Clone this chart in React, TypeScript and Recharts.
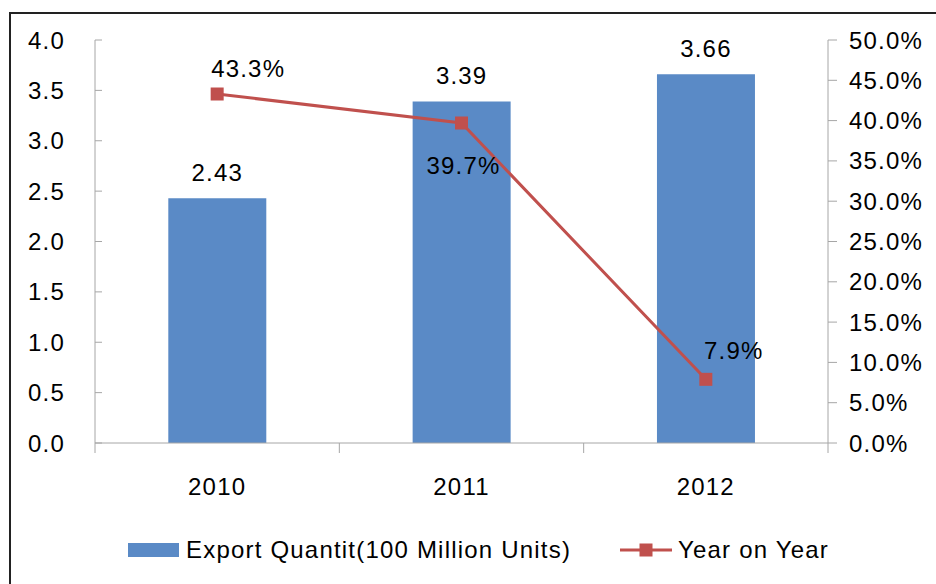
import React from 'react';
import { ComposedChart, Bar, Line, XAxis, YAxis, LabelList } from 'recharts';

const years = ['2010', '2011', '2012'];
const exportQuantity = [2.43, 3.39, 3.66];
const yearOnYear = [43.3, 39.7, 7.9];
const leftTicks = [0, 0.5, 1, 1.5, 2, 2.5, 3, 3.5, 4];
const rightTicks = [0, 5, 10, 15, 20, 25, 30, 35, 40, 45, 50];

// label nudges for the percentage labels, per point
const pctLabelShift = [
  { dx: 31, dy: -26 },
  { dx: 2, dy: 42 },
  { dx: 28, dy: -29 },
];

const data = years.map((year, i) => ({
  year,
  qty: exportQuantity[i],
  yoy: yearOnYear[i],
}));

const FONT = '"Liberation Sans", Arial, sans-serif';
const FS = 24;
const LS = 1.2;
const BLUE = '#5A8AC6';
const RED = '#C0504D';
const AXIS = '#A6A6A6';

const SquareDot = (props: any) => {
  const { cx, cy, index } = props;
  if (cx == null || cy == null) return null;
  return <rect key={`dot-${index}`} x={cx - 6.5} y={cy - 6.5} width={13} height={13} fill={RED} />;
};

const PctLabel = (props: any) => {
  const { x, y, value, index } = props;
  const s = pctLabelShift[index] || { dx: 0, dy: -26 };
  return (
    <text x={x + s.dx} y={y + s.dy} textAnchor="middle" dominantBaseline="central" fontSize={FS} letterSpacing={LS} fill="#000" fontFamily={FONT}>
      {`${value.toFixed(1)}%`}
    </text>
  );
};

const QtyLabel = (props: any) => {
  const { x, y, width, value } = props;
  return (
    <text x={x + width / 2} y={y - 26} textAnchor="middle" dominantBaseline="central" fontSize={FS} letterSpacing={LS} fill="#000" fontFamily={FONT}>
      {value.toFixed(2)}
    </text>
  );
};

// year label plus the tick marks Excel puts between categories
const YearTick = (props: any) => {
  const { x, y, payload, index, visibleTicksCount } = props;
  const half = payload && payload.offset ? payload.offset : 122;
  const last = index === (visibleTicksCount ?? years.length) - 1;
  return (
    <g>
      <line x1={x - half} x2={x - half} y1={y} y2={y + 10} stroke={AXIS} />
      {last && <line x1={x + half} x2={x + half} y1={y} y2={y + 10} stroke={AXIS} />}
      <text x={x} y={y + 43} textAnchor="middle" dominantBaseline="central" fontSize={FS} letterSpacing={LS} fill="#000" fontFamily={FONT}>
        {payload.value}
      </text>
    </g>
  );
};

const tickStyle = { fontSize: FS, fill: '#000', fontFamily: FONT, letterSpacing: LS };

export default function App() {
  return (
    <div style={{ position: 'fixed', left: 0, top: 0, width: 936, height: 584, overflow: 'hidden', background: '#fff', fontFamily: FONT }}>
      <div style={{ position: 'absolute', left: 9, top: 12, width: 1000, height: 700, borderLeft: '2px solid #222', borderTop: '2px solid #222' }} />
      <div style={{ position: 'absolute', left: 0, top: 0 }}>
        <ComposedChart width={936} height={584} data={data} margin={{ top: 40, right: 0, bottom: 101, left: 0 }} barCategoryGap="30%">
          <XAxis
            dataKey="year"
            height={40}
            stroke={AXIS}
            tickLine={false}
            tickSize={0}
            tickMargin={0}
            interval={0}
            tick={YearTick}
          />
          <YAxis
            yAxisId="left"
            width={95}
            domain={[0, 4]}
            ticks={leftTicks}
            tickFormatter={(v: number) => v.toFixed(1)}
            tick={tickStyle}
            tickSize={-7}
            tickMargin={37}
            stroke={AXIS}
          />
          <YAxis
            yAxisId="right"
            orientation="right"
            width={108}
            domain={[0, 50]}
            ticks={rightTicks}
            tickFormatter={(v: number) => `${v.toFixed(1)}%`}
            tick={{ ...tickStyle, textAnchor: 'start' }}
            tickSize={9}
            tickMargin={12}
            stroke={AXIS}
          />
          <Bar yAxisId="left" dataKey="qty" fill={BLUE} isAnimationActive={false}>
            <LabelList dataKey="qty" content={QtyLabel} />
          </Bar>
          <Line
            yAxisId="right"
            dataKey="yoy"
            stroke={RED}
            strokeWidth={3}
            dot={SquareDot}
            activeDot={false}
            isAnimationActive={false}
          >
            <LabelList dataKey="yoy" content={PctLabel} />
          </Line>
        </ComposedChart>
      </div>
      <div style={{ position: 'absolute', top: 536, left: 128, display: 'flex', alignItems: 'center', fontSize: FS, letterSpacing: LS, color: '#000', whiteSpace: 'nowrap' }}>
        <div style={{ width: 51, height: 14, background: BLUE, marginRight: 7 }} />
        <span>Export Quantit(100 Million Units)</span>
      </div>
      <div style={{ position: 'absolute', top: 536, left: 620, display: 'flex', alignItems: 'center', fontSize: FS, letterSpacing: LS, color: '#000', whiteSpace: 'nowrap' }}>
        <svg width={52} height={16} style={{ marginRight: 6 }}>
          <line x1={0} y1={8} x2={52} y2={8} stroke={RED} strokeWidth={3} />
          <rect x={19.5} y={1.5} width={13} height={13} fill={RED} />
        </svg>
        <span>Year on Year</span>
      </div>
    </div>
  );
}
